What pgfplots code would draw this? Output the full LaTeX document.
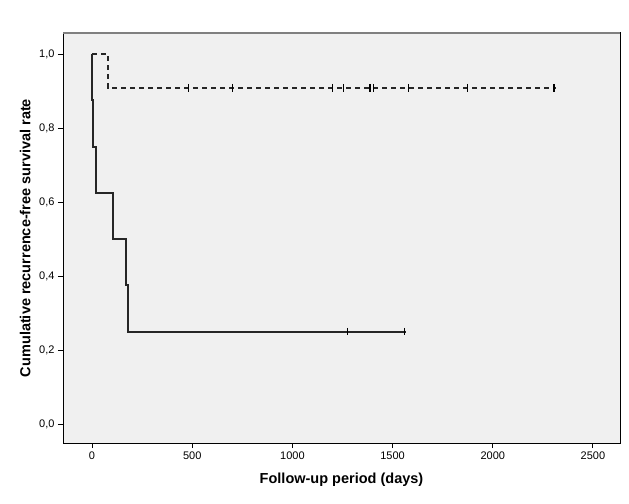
\documentclass[border=0pt]{standalone}
\usepackage{fontspec}
\setmainfont{Liberation Sans}
\usepackage{pgfplots}
\pgfplotsset{compat=1.18}
\definecolor{plotbg}{RGB}{240,240,240}

\begin{document}
\begin{tikzpicture}
\useasboundingbox (-63bp,-61bp) rectangle (566bp,443bp);
\begin{axis}[
  scale only axis, width=557bp, height=410bp,
  xmin=-145, xmax=2635, ymin=-0.051, ymax=1.057,
  xtick={0,500,1000,1500,2000,2500},
  ytick={0,0.2,0.4,0.6,0.8,1.0},
  tick pos=left, tick align=outside,
  major tick length=5bp,
  tick style={black, line width=1bp},
  axis line style={black, line width=1bp},
  axis background/.style={fill=plotbg},
  tick label style={font=\fontsize{11bp}{13bp}\selectfont},
  /pgf/number format/assume math mode=true,
  x tick label style={/pgf/number format/1000 sep={}},
  y tick label style={/pgf/number format/.cd, use comma, fixed, fixed zerofill, precision=1},
  xlabel={Follow-up period (days)},
  ylabel={Cumulative recurrence-free survival rate},
  label style={font=\bfseries\fontsize{14.5bp}{16bp}\selectfont},
  xlabel style={at={(axis description cs:0.5,-0.09)}, anchor=center},
  ylabel style={at={(axis description cs:-0.068,0.5)}, anchor=center},
]
% top edge of the frame is grey in the original
\draw[gray, line width=1.2bp] (rel axis cs:0,1) -- (rel axis cs:1,1);
% group with events (solid)
\addplot[black!85, line width=1.9bp, const plot] coordinates {
  (0,1.0) (0,0.875) (3,0.75) (18,0.625) (105,0.5) (170,0.375) (178,0.25) (1568,0.25)
};
\addplot[black, only marks, mark=|, mark size=3.8bp, mark options={line width=1.4bp}] coordinates {
  (1276,0.25) (1560,0.25)
};
% group with one event (dashed)
\addplot[black!85, line width=1.9bp, const plot, dash pattern=on 5bp off 4bp] coordinates {
  (0,1.0) (78,0.909) (2315,0.909)
};
\addplot[black, only marks, mark=|, mark size=3.8bp, mark options={line width=1.4bp}] coordinates {
  (481,0.909) (702,0.909) (1201,0.909) (1254,0.909) (1387,0.909) (1404,0.909)
  (1578,0.909) (1873,0.909) (2305,0.909)
};
\end{axis}
\end{tikzpicture}
\end{document}
